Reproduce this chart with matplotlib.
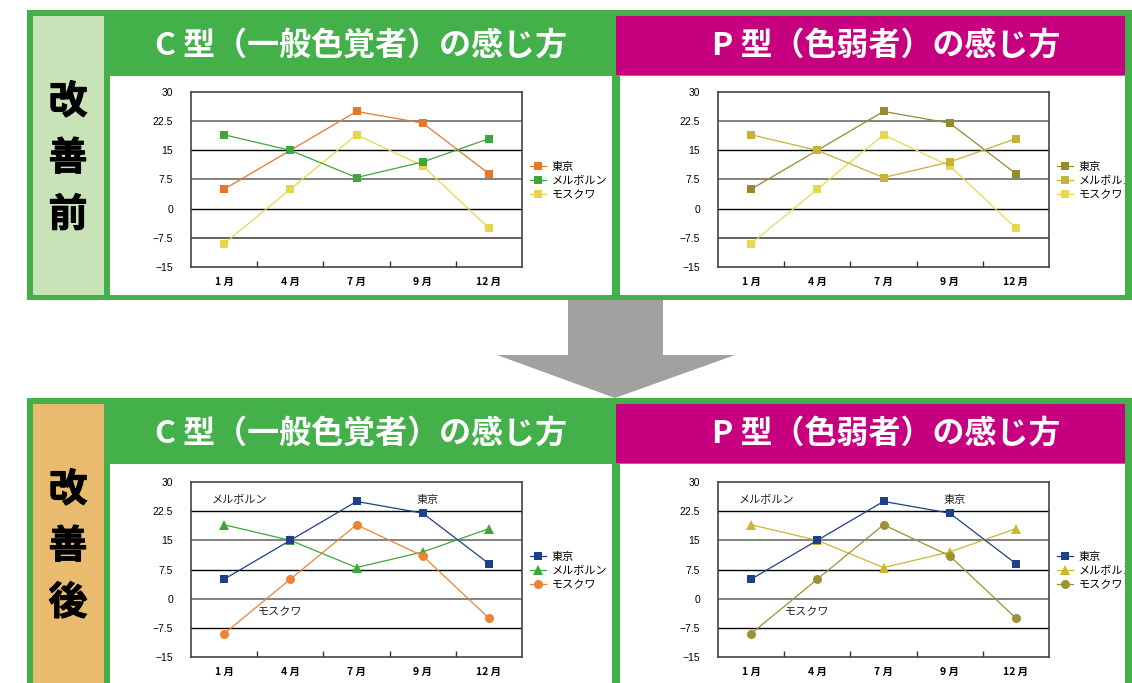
import matplotlib
matplotlib.use('Agg')
import matplotlib.pyplot as plt
import matplotlib.patheffects as pe
from matplotlib.patches import Rectangle, Polygon

plt.rcParams['font.family'] = ['Noto Sans CJK JP', 'DejaVu Sans']

# data (same temperatures in all four panels)
months = ['1 月', '4 月', '7 月', '9 月', '12 月']
cities = ['東京', 'メルボルン', 'モスクワ']
tokyo = [5, 15, 25, 22, 9]
melbourne = [19, 15, 8, 12, 18]
moscow = [-9, 5, 19, 11, -5]
yticks = [30, 22.5, 15, 7.5, 0, -7.5, -15]
ytick_labels = ['30', '22.5', '15', '7.5', '0', '\u22127.5', '\u221215']

series = {'東京': tokyo, 'メルボルン': melbourne, 'モスクワ': moscow}

titles = ['C 型（一般色覚者）の感じ方', 'P 型（色弱者）の感じ方']
side_before = ['改', '善', '前']
side_after = ['改', '善', '後']

GREEN = '#43b04a'
MAGENTA = '#c6007e'
PALE_GREEN = '#c9e3b9'
PALE_ORANGE = '#e9bb6e'
ARROW = '#a0a1a0'

W, H = 1132, 683
fig = plt.figure(figsize=(W / 100, H / 100), dpi=100)


def px_axes(x0, y0, x1, y1, **kw):
    return fig.add_axes([x0 / W, 1 - y1 / H, (x1 - x0) / W, (y1 - y0) / H], **kw)


def box(ax, x0, y0, x1, y1, color):
    ax.add_patch(Rectangle((x0, y0), x1 - x0, y1 - y0, color=color, lw=0))


# background layout
bg = px_axes(0, 0, W, H)
bg.set_xlim(0, W)
bg.set_ylim(H, 0)
bg.axis('off')

for top, bot, side_col, side_txt in [(10, 300, PALE_GREEN, side_before),
                                     (398, 683, PALE_ORANGE, side_after)]:
    inner_bot = bot - 5 if bot < H else H
    box(bg, 27, top, W, bot, GREEN)
    box(bg, 33, top + 6, 104, inner_bot, side_col)
    box(bg, 110, top + 66, 612, inner_bot, 'white')
    box(bg, 616, top + 6, 1125, top + 65, MAGENTA)
    box(bg, 620, top + 66, 1125, inner_bot, 'white')
    for i, ch in enumerate(side_txt):
        bg.text(68, top + 92 + i * 56.5, ch, ha='center', va='center',
                fontsize=28, fontweight='bold', color='black',
                path_effects=[pe.withStroke(linewidth=0.7, foreground='black')])
    bg.text(361, top + 36, titles[0], ha='center', va='center',
            fontsize=23, fontweight='bold', color='white')
    bg.text(886, top + 36, titles[1], ha='center', va='center',
            fontsize=23, fontweight='bold', color='white')

bg.add_patch(Polygon([(568, 300), (663, 300), (663, 355), (735, 355),
                      (615, 398), (497, 355), (568, 355)],
                     closed=True, color=ARROW, lw=0))


def draw_chart(ax, styles, order, grid_cols, notes=None):
    ax.set_xlim(-0.5, 4.5)
    ax.set_ylim(-15, 30)
    for yv, c in zip(yticks[1:-1], grid_cols):
        ax.axhline(yv, color=c, lw=1.3 if c != 'black' else 1.0, zorder=1)
    handles = {}
    for k, name in enumerate(order):
        col, mk, ms = styles[name]
        h, = ax.plot(range(len(months)), series[name], color=col, lw=0.9,
                     marker=mk, ms=ms, mew=0, zorder=3 + k)
        handles[name] = h
    ax.set_xticks(range(len(months)))
    ax.set_xticklabels(months, fontsize=7.5, fontweight='bold')
    ax.set_xticks([0.5, 1.5, 2.5, 3.5], minor=True)
    ax.tick_params(axis='x', which='major', length=0, pad=7)
    ax.tick_params(axis='x', which='minor', direction='in', length=4,
                   width=1, color='#333333')
    ax.set_yticks(yticks)
    ax.set_yticklabels(ytick_labels, fontsize=7.5, family='Liberation Sans')
    ax.tick_params(axis='y', length=0, pad=13)
    for s in ax.spines.values():
        s.set_color('#444444')
        s.set_linewidth(1.2)
    ax.legend([handles[c] for c in cities], cities, loc='center left',
              bbox_to_anchor=(1.025, 0.49), frameon=False, fontsize=8,
              handlelength=1.4, handletextpad=0.5, labelspacing=0.35,
              borderpad=0, borderaxespad=0)
    if notes:
        for name, (nx, ny) in notes.items():
            ax.text(nx, ny, name, ha='center', va='center', fontsize=8,
                    color='#222222')


grid_before = ['#777777', 'black', '#777777', 'black', '#555555']
grid_after = ['black', '#777777', 'black', '#777777', 'black']

before_c = {'東京': ('#e8772a', 's', 6), 'メルボルン': ('#3da73a', 's', 6),
            'モスクワ': ('#e5d74a', 's', 6)}
before_p = {'東京': ('#958a2e', 's', 6), 'メルボルン': ('#c4b336', 's', 6),
            'モスクワ': ('#e6da4c', 's', 6)}
after_c = {'東京': ('#203f8a', 's', 6), 'メルボルン': ('#3da73a', '^', 7),
           'モスクワ': ('#ec8234', 'o', 6.5)}
after_p = {'東京': ('#203f8a', 's', 6), 'メルボルン': ('#c9b82f', '^', 7),
           'モスクワ': ('#9c9234', 'o', 6.5)}

note_pos = {'メルボルン': (0.24, 25.4), '東京': (3.08, 25.4), 'モスクワ': (0.85, -3.4)}

ax1 = px_axes(191, 92, 522, 267)
draw_chart(ax1, before_c, ['東京', 'モスクワ', 'メルボルン'], grid_before)
ax2 = px_axes(718, 92, 1049, 267)
draw_chart(ax2, before_p, ['東京', 'モスクワ', 'メルボルン'], grid_before)
ax3 = px_axes(191, 482, 522, 657)
draw_chart(ax3, after_c, ['メルボルン', 'モスクワ', '東京'], grid_after, note_pos)
ax4 = px_axes(718, 482, 1049, 657)
draw_chart(ax4, after_p, ['メルボルン', 'モスクワ', '東京'], grid_after, note_pos)

# right edge of the green frame covers the legend overflow
over = px_axes(0, 0, W, H, zorder=10)
over.set_xlim(0, W)
over.set_ylim(H, 0)
over.axis('off')
over.patch.set_visible(False)
box(over, 1125, 10, W, 300, GREEN)
box(over, 1125, 398, W, H, GREEN)

fig.savefig('out.png', dpi=100)
